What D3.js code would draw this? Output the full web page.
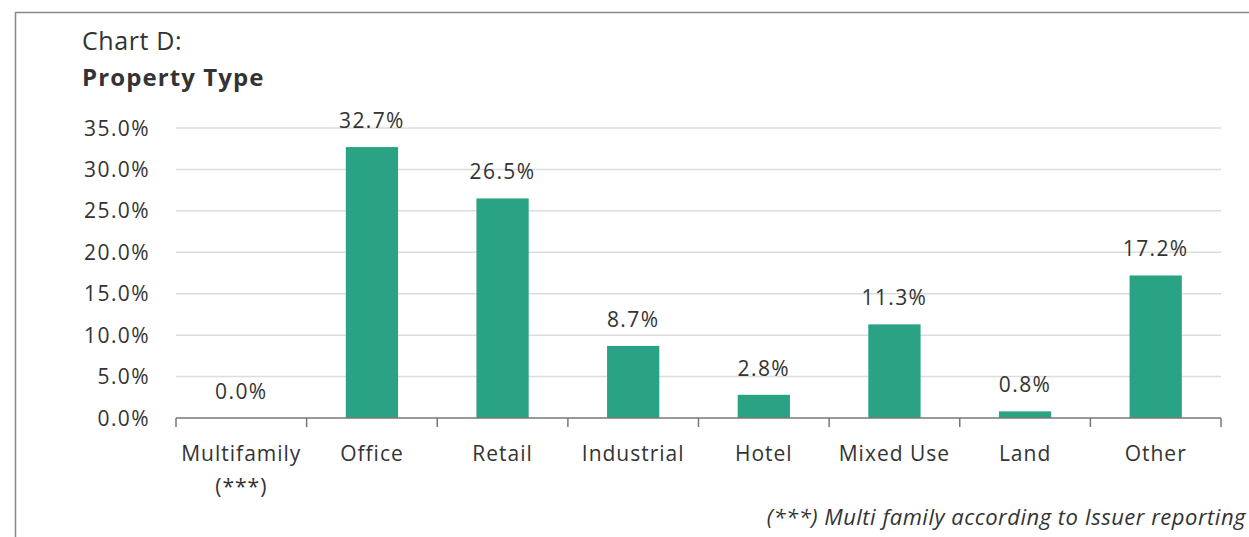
<!DOCTYPE html>
<html>
<head>
<meta charset="utf-8">
<script src="https://cdn.jsdelivr.net/npm/d3@7"></script>
<style>
  body { margin: 0; background: #fff; }
  svg text { font-family: "Open Sans", sans-serif; fill: #333; }
</style>
</head>
<body>
<div id="chart"></div>
<script>
var categories = ["Multifamily|(***)", "Office", "Retail", "Industrial", "Hotel", "Mixed Use", "Land", "Other"];
var values = [0.0, 32.7, 26.5, 8.7, 2.8, 11.3, 0.8, 17.2];
var yTicks = [0, 5, 10, 15, 20, 25, 30, 35];

var w = 1249, h = 537;
var plotLeft = 176, plotRight = 1221, plotTop = 128, plotBottom = 418;

var svg = d3.select("#chart").append("svg")
    .attr("width", w)
    .attr("height", h);

// frame
svg.append("path")
    .attr("d", "M15.5," + h + "V12.5H" + w)
    .attr("fill", "none")
    .attr("stroke", "#888")
    .attr("stroke-width", 1.5);

svg.append("text").attr("x", 82).attr("y", 50)
    .style("font-size", "25px").style("letter-spacing", "0.6px")
    .text("Chart D:");
svg.append("text").attr("x", 82).attr("y", 86)
    .style("font-size", "24px").style("font-weight", "bold").style("letter-spacing", "1.1px")
    .text("Property Type");

var xScale = d3.scaleBand()
    .domain(categories)
    .range([plotLeft, plotRight])
    .paddingInner(0.6)
    .paddingOuter(0.3);

var yScale = d3.scaleLinear()
    .domain([0, 35])
    .range([plotBottom, plotTop]);

// gridlines
svg.append("g").selectAll("line")
    .data(yTicks.slice(1))
    .enter().append("line")
    .attr("x1", plotLeft).attr("x2", plotRight)
    .attr("y1", function(d) { return yScale(d); })
    .attr("y2", function(d) { return yScale(d); })
    .attr("stroke", "#dcdcdc")
    .attr("stroke-width", 1.5);

// y labels
svg.append("g").selectAll("text")
    .data(yTicks)
    .enter().append("text")
    .attr("x", 150)
    .attr("y", function(d) { return yScale(d) + 7.5; })
    .attr("text-anchor", "end")
    .style("font-size", "21px").style("letter-spacing", "1.4px")
    .text(function(d) { return d.toFixed(1) + "%"; });

// bars
svg.append("g").selectAll("rect")
    .data(values)
    .enter().append("rect")
    .attr("x", function(d, i) { return xScale(categories[i]); })
    .attr("y", function(d) { return yScale(d); })
    .attr("width", xScale.bandwidth())
    .attr("height", function(d) { return yScale(0) - yScale(d); })
    .attr("fill", "#29a383");

// value labels
svg.append("g").selectAll("text")
    .data(values)
    .enter().append("text")
    .attr("x", function(d, i) { return xScale(categories[i]) + xScale.bandwidth() / 2; })
    .attr("y", function(d) { return yScale(d) - 19; })
    .attr("text-anchor", "middle")
    .style("font-size", "21px").style("letter-spacing", "1.4px")
    .text(function(d) { return d.toFixed(1) + "%"; });

// x axis
var axis = svg.append("g");
axis.append("line")
    .attr("x1", plotLeft).attr("x2", plotRight)
    .attr("y1", plotBottom).attr("y2", plotBottom)
    .attr("stroke", "#777").attr("stroke-width", 1.5);
axis.selectAll("line.tick")
    .data(d3.range(categories.length + 1))
    .enter().append("line")
    .attr("class", "tick")
    .attr("x1", function(d) { return plotLeft + d * (plotRight - plotLeft) / categories.length; })
    .attr("x2", function(d) { return plotLeft + d * (plotRight - plotLeft) / categories.length; })
    .attr("y1", plotBottom).attr("y2", plotBottom + 9)
    .attr("stroke", "#777").attr("stroke-width", 1.5);

var labels = axis.selectAll("text.cat")
    .data(categories)
    .enter().append("text")
    .attr("class", "cat")
    .attr("text-anchor", "middle")
    .style("font-size", "21px").style("letter-spacing", "1px");
labels.each(function(d) {
    var parts = d.split("|");
    var cx = xScale(d) + xScale.bandwidth() / 2;
    var t = d3.select(this);
    parts.forEach(function(p, j) {
        t.append("tspan").attr("x", cx).attr("y", 461 + j * 33).text(p);
    });
});

// footnote (kept fully inside the page)
svg.append("text").attr("x", 1246).attr("y", 525)
    .attr("text-anchor", "end")
    .style("font-size", "22px").style("font-style", "italic").style("letter-spacing", "0.5px")
    .text("(***) Multi family according to Issuer reporting");
</script>
</body>
</html>
